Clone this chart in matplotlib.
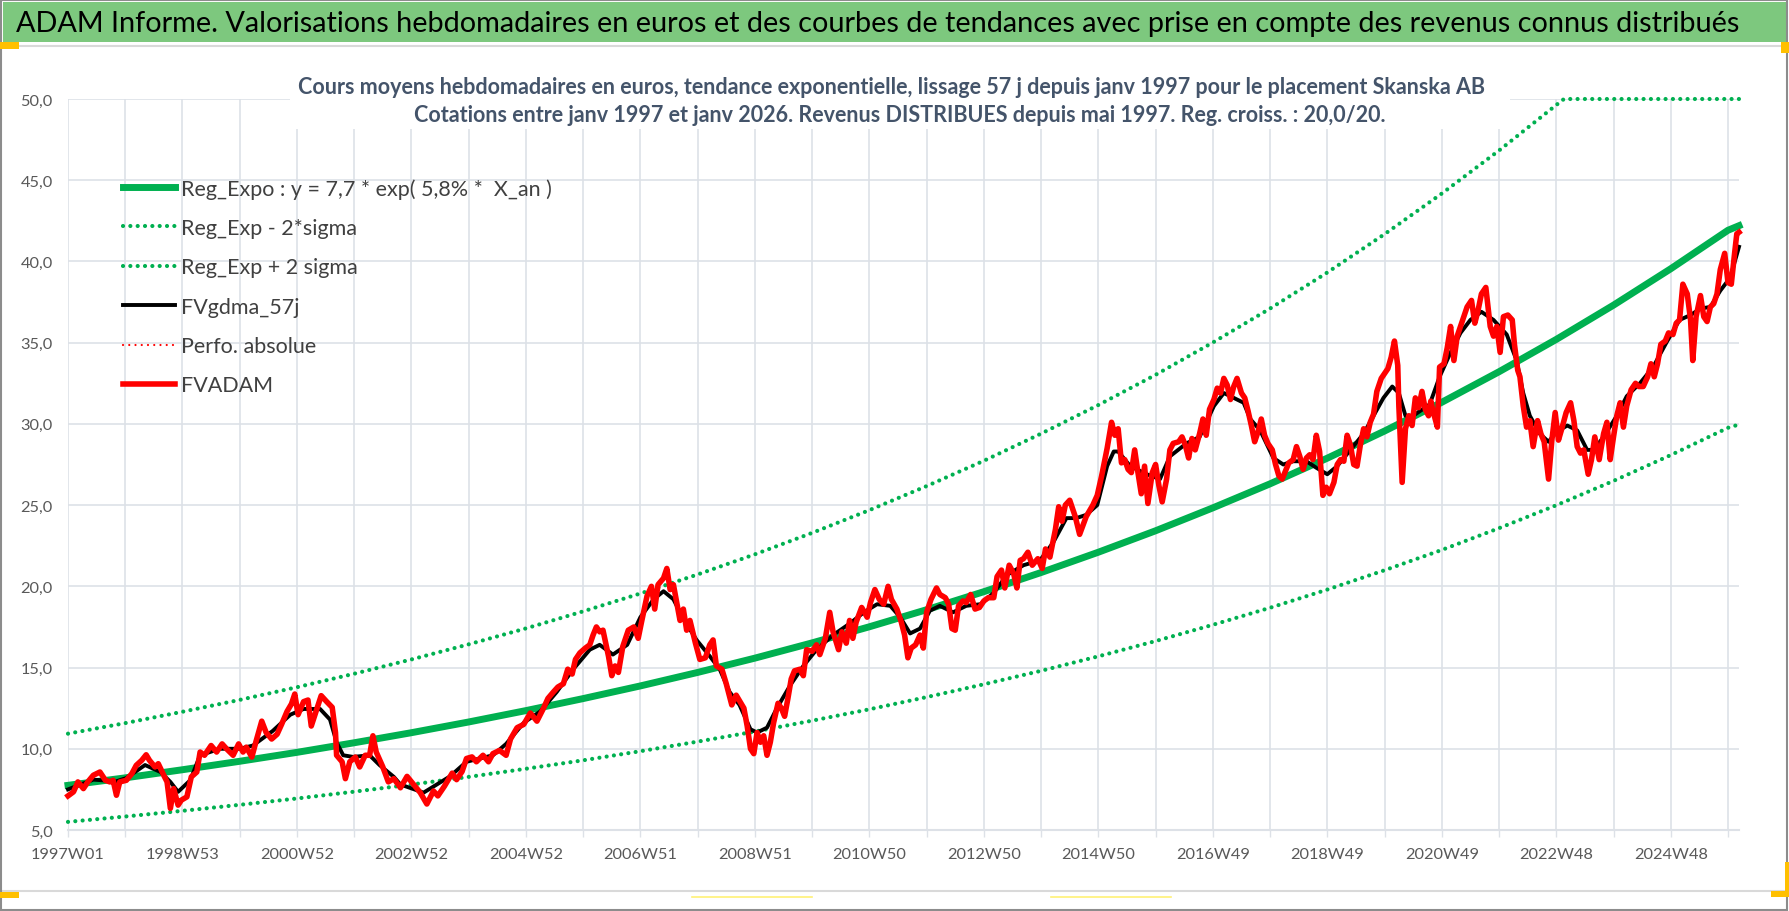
import numpy as np
import matplotlib.pyplot as plt
from matplotlib.patches import Rectangle
from matplotlib.lines import Line2D
from matplotlib.ticker import FixedLocator, FixedFormatter, FuncFormatter

W, H = 1790, 912

title = ("ADAM Informe. Valorisations hebdomadaires en euros et des courbes de tendances "
         "avec prise en compte des revenus connus distribués")
subtitle1 = ("Cours moyens hebdomadaires en euros, tendance exponentielle, lissage 57 j "
             "depuis janv 1997 pour le placement Skanska AB")
subtitle2 = ("Cotations entre janv 1997 et janv 2026. Revenus DISTRIBUES depuis mai 1997. "
             "Reg. croiss. : 20,0/20.")

x_labels = ["1997W01", "1998W53", "2000W52", "2002W52", "2004W52", "2006W51", "2008W51",
            "2010W50", "2012W50", "2014W50", "2016W49", "2018W49", "2020W49", "2022W48",
            "2024W48"]
n_weeks = 1518

# tendance expo (un point par an + fin)
trend_weeks = [0, 52, 104, 156, 208, 260, 312, 364, 416, 468, 520, 572, 624, 676, 728, 780,
               832, 884, 936, 988, 1040, 1092, 1144, 1196, 1248, 1300, 1352, 1404, 1456,
               1508, 1518]
trend_vals = [7.75, 8.21, 8.71, 9.23, 9.78, 10.37, 10.99, 11.65, 12.35, 13.09, 13.87, 14.70,
              15.58, 16.52, 17.51, 18.56, 19.67, 20.85, 22.10, 23.42, 24.83, 26.31, 27.89,
              29.56, 31.33, 33.21, 35.20, 37.31, 39.55, 41.92, 42.20]
low_vals = [5.50, 5.83, 6.18, 6.55, 6.94, 7.36, 7.80, 8.27, 8.77, 9.29, 9.85, 10.44, 11.06,
            11.73, 12.43, 13.18, 13.97, 14.80, 15.69, 16.63, 17.63, 18.68, 19.80, 20.99,
            22.24, 23.58, 24.99, 26.49, 28.08, 29.76, 29.96]
up_weeks = [0, 52, 104, 156, 208, 260, 312, 364, 416, 468, 520, 572, 624, 676, 728, 780,
            832, 884, 936, 988, 1040, 1092, 1144, 1196, 1248, 1300, 1352, 1359, 1518]
up_vals = [10.93, 11.58, 12.28, 13.01, 13.79, 14.62, 15.50, 16.43, 17.41, 18.46, 19.56,
           20.73, 21.97, 23.29, 24.69, 26.17, 27.73, 29.40, 31.16, 33.02, 35.01, 37.10,
           39.32, 41.68, 44.18, 46.83, 49.63, 50.0, 50.0]

# FVgdma_57j (moyenne lissée)
gdma_weeks = [0, 23, 44, 53, 70, 84, 93, 100, 111, 120, 138, 156, 168, 186, 202, 214, 229,
              238, 244, 250, 259, 274, 283, 296, 302, 323, 347, 362, 386, 398, 414, 429, 444,
              459, 474, 483, 495, 508, 520, 532, 541, 550, 559, 571, 583, 592, 601, 610, 620,
              626, 635, 644, 656, 668, 680, 695, 710, 723, 735, 747, 756, 765, 774, 783, 792,
              804, 816, 829, 841, 853, 868, 883, 895, 907, 916, 925, 935, 944, 950, 954, 965,
              980, 992, 1001, 1016, 1028, 1041, 1050, 1059, 1068, 1074, 1083, 1095, 1104,
              1113, 1125, 1134, 1144, 1153, 1165, 1177, 1186, 1195, 1203, 1209, 1215, 1222,
              1237, 1246, 1256, 1265, 1274, 1284, 1295, 1307, 1316, 1322, 1328, 1337, 1345,
              1352, 1362, 1371, 1380, 1386, 1395, 1407, 1416, 1428, 1440, 1452, 1464, 1474,
              1483, 1492, 1501, 1510, 1518]
gdma_vals = [7.5, 8.1, 8.0, 8.2, 9.0, 8.57, 7.96, 7.35, 8.06, 9.6, 10.0, 10.0, 10.2, 11.1,
             12.1, 12.45, 12.45, 11.8, 10.4, 9.6, 9.5, 9.6, 9.0, 8.27, 7.8, 7.3, 8.3, 9.2, 9.6,
             10.3, 11.6, 12.3, 13.5, 14.9, 16.1, 16.4, 15.8, 16.4, 18.1, 19.2, 19.7, 19.2,
             18.0, 16.7, 15.7, 14.9, 13.5, 12.7, 11.2, 11.0, 11.3, 12.5, 13.9, 15.1, 16.1,
             17.0, 17.7, 18.4, 18.9, 18.8, 18.1, 17.1, 17.4, 18.5, 18.8, 18.4, 18.8, 18.9,
             19.6, 20.7, 21.3, 21.6, 22.7, 24.2, 24.2, 24.4, 25.0, 27.4, 28.3, 28.3, 27.4,
             26.9, 26.6, 28.0, 28.8, 29.2, 31.1, 31.9, 31.6, 31.3, 30.3, 29.6, 27.9, 27.5,
             27.7, 27.7, 27.3, 26.9, 27.4, 28.4, 29.4, 30.5, 31.6, 32.3, 31.9, 30.5, 30.5,
             31.2, 32.9, 34.4, 35.6, 36.4, 36.9, 36.4, 35.5, 33.9, 31.9, 30.5, 29.4, 28.9,
             29.5, 29.9, 29.6, 28.4, 28.4, 29.2, 30.5, 31.7, 32.5, 33.5, 35.0, 36.4, 36.7,
             37.1, 37.2, 38.2, 39.0, 40.9]

# FVADAM (cours hebdo)
adam_weeks = [0, 5, 9, 14, 18, 23, 29, 34, 38, 41, 44, 47, 53, 58, 62, 67, 71, 74, 79, 82,
              87, 90, 93, 96, 100, 103, 108, 112, 117, 120, 124, 130, 135, 140, 144, 150, 155,
              159, 162, 167, 171, 176, 180, 185, 190, 194, 199, 203, 206, 209, 214, 218, 221,
              226, 230, 235, 240, 243, 244, 249, 252, 256, 261, 265, 270, 274, 277, 280, 286,
              291, 296, 302, 308, 314, 320, 326, 332, 336, 342, 349, 353, 358, 362, 367, 371,
              377, 382, 386, 392, 398, 402, 408, 414, 420, 426, 432, 436, 441, 445, 450, 454,
              458, 461, 465, 470, 474, 477, 480, 483, 486, 491, 494, 497, 500, 504, 509, 514,
              518, 521, 526, 530, 533, 536, 541, 544, 547, 550, 553, 556, 559, 562, 565, 570,
              574, 579, 583, 586, 589, 594, 598, 603, 607, 614, 617, 620, 623, 626, 629, 632,
              635, 638, 641, 645, 648, 651, 654, 657, 660, 665, 668, 671, 676, 680, 683, 688,
              692, 695, 700, 703, 707, 710, 713, 716, 721, 726, 729, 733, 737, 741, 745, 748,
              753, 757, 760, 763, 766, 770, 774, 777, 780, 784, 789, 792, 797, 800, 803, 806,
              809, 813, 816, 820, 824, 828, 832, 836, 841, 844, 848, 851, 855, 859, 862, 865,
              868, 872, 876, 881, 885, 888, 892, 897, 900, 903, 906, 910, 915, 919, 925, 931,
              935, 939, 944, 948, 951, 954, 957, 960, 963, 966, 969, 972, 975, 978, 981, 985,
              988, 991, 994, 998, 1001, 1004, 1009, 1012, 1015, 1018, 1021, 1024, 1028, 1031,
              1034, 1037, 1041, 1044, 1047, 1050, 1053, 1056, 1059, 1062, 1066, 1069, 1072,
              1075, 1078, 1081, 1084, 1087, 1090, 1094, 1097, 1100, 1103, 1106, 1109, 1113,
              1116, 1119, 1122, 1125, 1128, 1131, 1134, 1137, 1140, 1143, 1146, 1150, 1153,
              1156, 1159, 1162, 1165, 1168, 1171, 1174, 1177, 1180, 1183, 1186, 1189, 1193,
              1196, 1199, 1202, 1205, 1208, 1209, 1212, 1215, 1218, 1221, 1224, 1227, 1230,
              1233, 1236, 1238, 1240, 1244, 1246, 1250, 1253, 1256, 1259, 1262, 1266, 1271,
              1275, 1278, 1281, 1284, 1288, 1292, 1295, 1298, 1301, 1304, 1308, 1312, 1314,
              1317, 1319, 1322, 1325, 1328, 1331, 1335, 1338, 1341, 1345, 1348, 1351, 1354,
              1357, 1361, 1365, 1368, 1371, 1374, 1377, 1381, 1384, 1387, 1391, 1395, 1398,
              1401, 1404, 1407, 1410, 1413, 1416, 1420, 1424, 1427, 1431, 1435, 1438, 1441,
              1444, 1447, 1451, 1454, 1458, 1461, 1464, 1467, 1471, 1474, 1476, 1479, 1483,
              1486, 1489, 1492, 1495, 1498, 1501, 1505, 1508, 1511, 1514, 1516, 1518]
adam_vals = [7.1, 7.35, 7.96, 7.55, 7.96, 8.37, 8.57, 8.06, 7.96, 8.06, 7.14, 7.96, 8.06,
             8.47, 8.98, 9.29, 9.63, 9.29, 8.88, 9.08, 8.37, 7.96, 6.33, 7.55, 6.53, 6.84,
             7.04, 8.27, 8.57, 9.8, 9.6, 10.2, 9.8, 10.3, 10.0, 9.6, 10.3, 9.8, 10.1, 9.49,
             10.5, 11.7, 11.0, 10.6, 10.9, 11.5, 12.3, 12.76, 13.37, 12.1, 12.9, 13.0, 11.4,
             12.45, 13.27, 12.9, 12.55, 11.0, 9.6, 9.2, 8.16, 9.2, 9.49, 8.88, 9.6, 9.6, 10.8,
             9.8, 8.88, 7.96, 8.16, 7.6, 8.3, 7.8, 7.3, 6.6, 7.4, 7.1, 7.7, 8.5, 8.1, 8.6, 9.4,
             9.5, 9.2, 9.6, 9.2, 9.7, 9.9, 9.6, 10.6, 11.3, 11.5, 12.2, 11.7, 12.5, 13.1,
             13.5, 13.8, 14.0, 14.9, 14.6, 15.5, 15.9, 16.2, 16.4, 17.0, 17.5, 17.2, 17.3,
             15.7, 14.5, 15.1, 14.7, 16.3, 17.3, 17.5, 16.8, 17.8, 19.4, 20.0, 18.6, 20.1,
             20.5, 21.1, 19.8, 20.1, 19.0, 17.9, 18.6, 17.3, 17.9, 16.5, 15.5, 15.6, 16.4,
             16.7, 15.1, 14.9, 14.0, 12.7, 13.3, 12.5, 11.4, 10.0, 9.7, 11.0, 10.4, 10.8, 9.6,
             10.4, 11.6, 12.8, 12.5, 12.0, 13.1, 14.3, 14.8, 14.9, 14.5, 16.1, 16.0, 16.4,
             15.8, 16.8, 18.4, 17.2, 16.1, 17.2, 16.5, 17.9, 16.8, 17.8, 18.7, 18.1, 19.0,
             19.8, 19.2, 18.9, 20.0, 19.2, 18.6, 17.8, 17.0, 15.6, 16.2, 16.4, 17.0, 16.2,
             18.4, 19.2, 19.9, 19.5, 19.3, 18.9, 17.4, 17.3, 18.8, 19.1, 19.0, 19.5, 18.6,
             18.7, 19.1, 19.3, 19.3, 20.6, 21.0, 19.9, 21.3, 20.8, 19.9, 21.6, 21.7, 22.1,
             21.3, 21.7, 21.1, 22.3, 21.8, 23.5, 24.9, 24.0, 25.0, 25.3, 24.3, 23.2, 24.3,
             25.0, 25.6, 26.8, 28.5, 30.1, 29.3, 29.7, 27.6, 27.8, 27.2, 27.0, 28.4, 27.0,
             25.7, 27.4, 25.1, 27.0, 27.5, 26.2, 25.2, 26.6, 28.4, 28.8, 28.9, 29.2, 28.7,
             27.9, 29.1, 28.4, 29.4, 30.3, 29.3, 30.9, 31.5, 32.2, 31.9, 32.8, 32.4, 31.5,
             32.3, 32.8, 31.9, 31.6, 30.8, 29.9, 28.9, 29.5, 30.3, 29.3, 28.8, 28.4, 27.5,
             26.8, 26.6, 27.1, 27.6, 27.8, 28.6, 28.0, 27.2, 27.9, 28.1, 27.8, 29.3, 28.3,
             25.6, 26.1, 25.7, 26.4, 27.5, 27.8, 27.7, 29.3, 28.7, 27.5, 27.4, 28.7, 29.7,
             29.2, 30.1, 30.6, 32.0, 32.8, 33.1, 33.4, 34.1, 35.1, 33.6, 31.1, 26.4, 29.7,
             30.5, 29.9, 31.6, 31.0, 32.0, 30.9, 30.5, 31.4, 30.8, 29.8, 33.5, 33.7, 34.7,
             36.0, 33.9, 35.4, 36.2, 37.2, 37.6, 36.2, 37.0, 38.0, 38.4, 36.0, 35.4, 36.0,
             34.4, 36.6, 36.7, 36.4, 34.9, 33.3, 32.9, 31.1, 29.8, 30.2, 28.6, 30.2, 29.4,
             28.9, 26.6, 29.0, 30.7, 29.0, 29.7, 30.7, 31.3, 30.2, 28.6, 28.2, 28.4, 26.9,
             27.8, 29.2, 27.8, 29.4, 30.1, 27.8, 29.2, 30.5, 31.3, 29.8, 31.1, 32.1, 32.5,
             32.3, 32.3, 32.9, 33.7, 32.9, 33.7, 34.9, 35.1, 35.6, 35.5, 36.2, 36.4, 38.6,
             38.0, 36.4, 33.9, 36.6, 37.9, 36.6, 36.3, 37.2, 37.4, 38.0, 39.5, 40.5, 38.7,
             38.6, 40.5, 41.7, 41.8]

legend_labels = ["Reg_Expo : y = 7,7 * exp( 5,8% *  X_an )", "Reg_Exp - 2*sigma",
                 "Reg_Exp + 2 sigma", "FVgdma_57j", "Perfo. absolue", "FVADAM"]

GREEN = "#00B050"
GRID = "#DDE1E7"
DOTS = (0, (0.01, 1.75))
plt.rcParams['font.family'] = ['Lato', 'DejaVu Sans']


def box(x0, y0, x1, y1, **kw):
    # rectangle en pixels (origine en haut a gauche)
    r = Rectangle((x0 / W, 1 - y1 / H), (x1 - x0) / W, (y1 - y0) / H,
                  transform=fig.transFigure, **kw)
    fig.add_artist(r)
    return r


def hline(x0, x1, y, **kw):
    fig.add_artist(Line2D([x0 / W, x1 / W], [1 - y / H, 1 - y / H],
                          transform=fig.transFigure, **kw))


fig = plt.figure(figsize=(W / 100, H / 100), dpi=100)

# bandeau titre + cadre
box(3, 3, 1786, 43, facecolor="#7DC87E", edgecolor="none", zorder=0)
fig.text(16 / W, 1 - 24 / H, title, ha="left", va="center", fontsize=20.8, color="black")
hline(3, 1786, 47, color="#D9D9D9", lw=1.5)
hline(3, 1786, 892, color="#D9D9D9", lw=1.5)
box(1, 1, 1787, 911, facecolor="none", edgecolor="#8C8C8C", lw=1.5, zorder=5)
box(0, 43, 19, 50, facecolor="#FFC000", edgecolor="none", zorder=6)
box(0, 893, 19, 899, facecolor="#FFC000", edgecolor="none", zorder=6)
box(1781, 43, 1790, 54, facecolor="#FFC000", edgecolor="none", zorder=6)
box(1785, 863, 1790, 898, facecolor="#FFC000", edgecolor="none", zorder=6)
box(1771, 892, 1790, 898, facecolor="#FFC000", edgecolor="none", zorder=6)
hline(692, 812, 898, color="#FFF176", lw=1.2)
hline(1051, 1171, 898, color="#FFF176", lw=1.2)

ax = fig.add_axes([68 / W, 1 - 831 / H, 1671 / W, 731 / H])
ax.set_xlim(0, n_weeks)
ax.set_ylim(5, 50)
for s in ax.spines.values():
    s.set_visible(False)
ax.spines['bottom'].set_visible(True)
ax.spines['bottom'].set_color(GRID)
ax.spines['bottom'].set_linewidth(1.5)

xt = np.arange(0, n_weeks + 1, 52)
ax.xaxis.set_major_locator(FixedLocator(xt))
ax.xaxis.set_major_formatter(FixedFormatter(
    [x_labels[i // 2] if i % 2 == 0 else "" for i in range(len(xt))]))
ax.yaxis.set_major_locator(FixedLocator(np.arange(5, 51, 5)))
ax.yaxis.set_major_formatter(FuncFormatter(lambda v, p: f"{v:.1f}".replace(".", ",")))
ax.grid(True, color=GRID, lw=1.2)
ax.set_axisbelow(True)
ax.tick_params(axis="x", length=5, width=1, color=GRID, pad=7, labelsize=11.8,
               labelcolor="#595959")
ax.tick_params(axis="y", length=0, pad=11, labelsize=11.8, labelcolor="#595959")

# courbes
ax.plot(trend_weeks, trend_vals, color=GREEN, lw=5.0, clip_on=False, label=legend_labels[0])
ax.plot(trend_weeks, low_vals, color=GREEN, lw=3.0, ls=DOTS,
        dash_capstyle="round", clip_on=False, label=legend_labels[1])
ax.plot(up_weeks, up_vals, color=GREEN, lw=3.0, ls=DOTS,
        dash_capstyle="round", clip_on=False, label=legend_labels[2])
ax.plot(gdma_weeks, gdma_vals, color="black", lw=2.8, clip_on=False, label=legend_labels[3])
ax.plot([], [], color="red", lw=1.6, ls=(0, (0.01, 2.8)), dash_capstyle="round",
        label=legend_labels[4])
ax.plot(adam_weeks, adam_vals, color="red", lw=4.0, clip_on=False, label=legend_labels[5])

ax.legend(loc="upper left", bbox_to_anchor=(123 / W, 1 - 179 / H),
          bbox_transform=fig.transFigure, frameon=False, fontsize=15.5,
          handlelength=2.4, handletextpad=0.3, labelspacing=0.9, borderpad=0,
          borderaxespad=0, labelcolor="#404040")

# sous-titre sur fond blanc
box(290, 66, 1510, 130, facecolor="white", edgecolor="none", zorder=1)
fig.text(892 / W, 1 - 87 / H, subtitle1, ha="center", va="center", fontsize=15.5,
         fontweight="bold", color="#44546A", zorder=2)
fig.text(900 / W, 1 - 116 / H, subtitle2, ha="center", va="center", fontsize=15.5,
         fontweight="bold", color="#44546A", zorder=2)

fig.savefig("out.png", dpi=100)
